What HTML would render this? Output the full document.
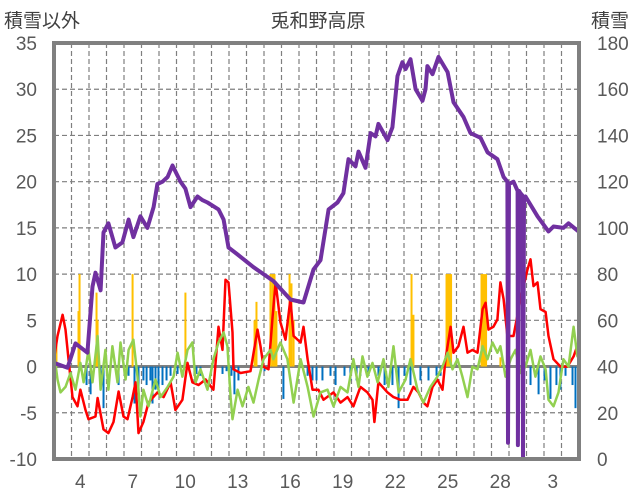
<!DOCTYPE html>
<html><head><meta charset="utf-8">
<style>
html,body{margin:0;padding:0;background:#fff;}
svg{display:block;font-family:"Liberation Sans","Noto Sans CJK JP",sans-serif;}
</style></head>
<body>
<svg id="chart" width="636" height="501" viewBox="0 0 636 501">
<text x="318" y="27" font-size="19" fill="#404040" text-anchor="middle">兎和野高原</text>
<text x="4" y="27" font-size="19" fill="#404040">積雪以外</text>
<text x="591" y="27" font-size="19" fill="#404040">積雪</text>
<g id="grid"></g>
<g id="bars"></g>
<g id="lines"></g>
<g id="axes"></g>
</svg>
<script>
const leftTicks=[-10,-5,0,5,10,15,20,25,30,35];
const rightTicks=[0,20,40,60,80,100,120,140,160,180];
const dayLabelIdx=[1,4,7,10,13,16,19,22,25,28];
const dayLabels=["4","7","10","13","16","19","22","25","28","3"];
const snowT=[0,0.77,1.23,1.91,2.2,2.37,2.66,2.83,3.11,3.51,3.91,4.26,4.54,4.94,5.34,5.69,5.91,6.2,6.49,6.77,7.23,7.51,7.8,8.2,8.49,8.77,9.4,9.69,9.97,10.49,11.4,11.97,12.54,13.51,14.26,14.83,15.23,15.69,16.2,16.54,16.83,17.23,17.4,17.8,18.09,18.37,18.54,19.06,19.34,19.63,19.91,20.09,20.37,20.66,21.06,21.23,21.34,21.63,21.97,22.49,22.83,23.4,23.8,24.37,24.77,25.34,25.69,25.91,25.94,26.0,26.26,26.49,26.51,26.57,26.66,26.77,26.8,26.86,26.94,27.63,28.26,28.54,29.11,29.4,29.97];
const snowV=[41.6,39.5,50,46,74.6,80.6,73,98,102,91.5,93.7,103.6,96,105,100,109,119,120,122,127,120,117,109,113.6,112,111,108,103.6,91.5,88.5,83,80,77,69,67.7,82,86,108,111,115,129.7,126.6,133,126,141,139.6,145,138,143.5,165.7,171.7,168.7,173,160,155,160,170,166.5,174,167.4,154.4,148,141,139,132.7,129.7,122,120,7,119,120,116,6,116,115,114,1,113,113.6,105,98.5,100.6,100,102,98.5];
const redT=[0,0.2,0.49,0.66,0.83,1.06,1.34,1.51,1.8,1.97,2.37,2.49,2.83,3.11,3.4,3.69,3.97,4.2,4.49,4.66,4.83,5.11,5.4,5.91,6.26,6.66,6.94,7.34,7.63,7.91,8.26,8.66,9.11,9.4,9.63,9.8,9.97,10.2,10.26,10.66,11.23,11.63,11.8,11.97,12.26,12.49,12.66,12.94,13.23,13.51,13.69,14.09,14.26,14.49,14.77,15.11,15.4,15.97,16.37,16.77,17.11,17.51,17.91,18.2,18.31,18.54,19.06,19.4,19.8,20.2,20.54,20.83,21.11,21.34,21.63,21.91,22.2,22.37,22.66,22.83,23.11,23.4,23.63,23.91,24.2,24.49,24.66,24.83,25.11,25.34,25.51,25.69,25.91,26.26,26.66,27.06,27.23,27.4,27.63,27.8,28.09,28.26,28.54,28.94,29.34,29.69,29.97];
const redV=[0.8,3.3,5.6,4,0.8,-3.3,-4.3,-2.5,-4.7,-5.7,-5.4,-3.4,-6.8,-7.2,-6,-2.7,-5.4,-5.7,-3.3,-1.7,-7.2,-6,-3.9,-2.8,-3.3,-1.7,-4.7,-3.6,0.4,-1.7,-2,-1.4,-2.5,4.3,1.8,9.4,9.1,3.7,-0.3,-0.7,-0.5,4,2.2,0,-0.3,5.4,9.1,4.8,2.9,7.3,3.3,2.6,4.3,0.8,-2.5,-2.5,-3.6,-2.8,-3.9,-3.3,-4.3,-2.2,-2.8,-3.6,-6,-1.7,-2.8,-3.3,-3.6,-3.6,-2.2,-2.8,-3.9,-4.3,-2.2,-1.4,-2.5,0.8,4.3,1.5,2.2,4.3,1.5,1.8,1.5,6.2,6.9,4,4.3,5.1,9.1,7.3,3.3,3.3,7.3,10.5,11.6,8.7,9.1,6.2,5.9,3.3,0.8,0,0,1.1,2.6];
const greenT=[0,0.2,0.37,0.66,0.94,1.23,1.51,1.69,1.97,2.2,2.49,2.66,2.94,3.11,3.34,3.63,3.8,4.09,4.26,4.54,4.77,4.94,5.11,5.4,5.8,6.09,6.49,6.83,7.06,7.34,7.63,7.91,8.09,8.37,8.77,9.11,9.4,9.69,9.91,10.09,10.2,10.49,10.77,11.11,11.4,11.69,11.97,12.37,12.54,12.94,13.34,13.69,14.09,14.49,14.83,15.23,15.63,15.97,16.37,16.77,17.11,17.4,17.63,17.91,18.2,18.49,18.83,19.11,19.4,19.69,20.09,20.37,20.77,21.11,21.51,21.91,22.2,22.49,22.77,23.06,23.34,23.63,23.91,24.2,24.49,24.77,25.06,25.34,25.51,25.8,26.09,26.37,26.66,26.94,27.23,27.51,27.8,28.09,28.26,28.54,28.83,29.11,29.4,29.69,29.91,30.0];
const greenV=[1.5,-1.4,-2.8,-2.2,-0.7,-2.5,0.4,-1.7,1.8,-1.7,3.3,-2.5,1.8,-2.5,2.2,-1.7,2.6,-1.4,1.8,2.9,-1.1,-5.4,-2.5,-4.3,-1.4,-3.3,-2.2,-1.1,1.5,-1.1,1.8,2.6,-1.7,-0.3,-2.5,0.8,2.6,3.7,2.2,-3.3,-5.7,-2.5,-4.3,-2.2,-3.9,-1.4,0.8,1.8,0.8,2.6,0.8,-3.9,0.8,-2.2,-5.4,-2.8,-2.5,-4.3,-2.2,-2.8,0.8,-2.2,1.1,-1.1,0.4,-1.7,0.8,-2.2,2.2,-2.8,-1.4,0.8,-2.5,-3.9,-2.2,-1.1,0,1.5,-0.3,0.8,-1.1,-3.3,0,-0.3,2.2,0.8,2.6,1.5,2.2,-1.1,0.8,1.8,-0.7,0,1.8,-1.1,1.1,-0.3,-3.6,-4.3,-2.8,0.8,0,4.3,1.1,2.6];
const yellowT=[0.14,1.4,1.46,2.43,2.49,4.49,7.51,11.46,11.57,12.37,12.49,12.6,12.71,13.46,13.57,13.69,20.43,20.54,22.43,22.51,22.6,22.69,24.43,24.51,24.6,24.69,25.51];
const yellowV=[2.6,6,10,8,5,10,8,5,7,10,10,10,6,10,9,5,10,5.6,10,10,10,10,10,10,10,10,1];
const blueT=[1.86,2.09,2.66,2.83,3.69,4.26,4.6,4.83,5.11,5.29,5.51,5.63,5.8,5.97,6.2,6.43,6.66,7.06,8.14,8.37,9.63,9.86,10.14,10.31,10.54,12.03,13.11,14.49,14.77,15,15.34,15.8,16.09,16.6,16.94,17.29,17.51,17.97,18.54,18.89,19.34,19.69,20.03,20.37,20.94,21.4,21.86,22.09,27.23,27.69,28.03,28.37,28.71,28.94,29.23,29.63,29.8];
const blueV=[-2,-3,-1.5,-4.5,-2,-1,-4,-3,-1.5,-2,-1.5,-4,-2.5,-3,-2,-1.5,-1,-0.8,-0.8,-1,-0.8,-0.5,-1,-3,-1.5,-0.5,-3.5,-1,-1.5,-1.5,-1.5,-1,-2,-1,-1.5,-1.5,-1,-1,-1,-2,-2,-4.5,-1,-2,-1.5,-1.5,-1,-1,-2,-3,-1.5,-3.5,-2,-2.5,-1,-2,-4.5];

const X0=54,DAYW=17.5,NDAYS=30,YT=43,YB=459;
const xS=d=>X0+d*DAYW;
const yL=v=>YB-(v+10)*(YB-YT)/45;
const yR=c=>YB-c*(YB-YT)/180;
const NS="http://www.w3.org/2000/svg";
function mk(tag,attrs,parent){const e=document.createElementNS(NS,tag);for(const k in attrs)e.setAttribute(k,attrs[k]);parent.appendChild(e);return e;}
const grid=document.getElementById('grid'),bars=document.getElementById('bars'),lines=document.getElementById('lines'),axes=document.getElementById('axes');
leftTicks.forEach(v=>{
  if(v!==-10&&v!==35&&v!==0){const l=mk('line',{x1:X0,x2:X0+NDAYS*DAYW,y1:yL(v),y2:yL(v),stroke:'#7f7f7f','stroke-width':1.2,'stroke-dasharray':'5,3'},grid);
  
  }
  const t=mk('text',{x:37,y:yL(v)+7,'font-size':19,fill:'#595959','text-anchor':'end'},axes);t.textContent=v;
  
  
});
rightTicks.forEach(c=>{
  const t=mk('text',{x:597,y:yR(c)+7,'font-size':19,fill:'#595959'},axes);t.textContent=c;
  
  
});
for(let i=1;i<NDAYS;i++){
  const l=mk('line',{x1:xS(i),x2:xS(i),y1:YT,y2:YB,stroke:'#7f7f7f','stroke-width':1.2,'stroke-dasharray':'5,3'},grid);
  
  
}
dayLabelIdx.forEach((i,k)=>{
  const t=mk('text',{x:xS(i+0.5),y:488,'font-size':19,fill:'#595959','text-anchor':'middle'},axes);t.textContent=dayLabels[k];
  
  
});
yellowT.forEach((d,i)=>{
  const v=yellowV[i];const r=mk('rect',{x:xS(d)-1,y:yL(v),width:2,height:yL(0)-yL(v),fill:'#ffc000'},bars);
  
  
});
blueT.forEach((d,i)=>{
  const v=blueV[i];const r=mk('rect',{x:xS(d)-1,y:yL(0),width:2,height:yL(v)-yL(0),fill:'#0070c0'},bars);
  
  
});
function pl(T,V,f,col,w,name){
  const pts=T.map((d,i)=>xS(d).toFixed(1)+','+f(V[i]).toFixed(1)).join(' ');
  const p=mk('polyline',{points:pts,fill:'none',stroke:col,'stroke-width':w,'stroke-linejoin':'round'},lines);
  
  
}
pl(redT,redV,yL,'#ff0000',2.5,'red-series-line');
pl(greenT,greenV,yL,'#92d050',2.5,'green-series-line');
const z=mk('line',{x1:X0,x2:X0+NDAYS*DAYW,y1:yL(0),y2:yL(0),stroke:'#808080','stroke-width':3},grid);


pl(snowT,snowV,yR,'#7030a0',4,'snow-depth-line');
const b=mk('rect',{x:X0,y:YT,width:NDAYS*DAYW,height:YB-YT,fill:'none',stroke:'#808080','stroke-width':4},axes);


</script>
</body></html>
